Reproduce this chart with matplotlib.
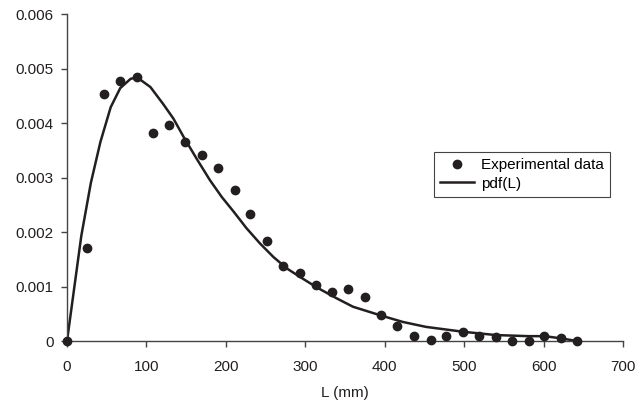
import numpy as np
from matplotlib import pyplot as plt

# experimental points (L in mm, probability density x 1e-3)
exp_L = [0, 25, 46, 67, 88, 108, 129, 149, 170, 190, 211, 231, 252, 272, 293, 313,
         334, 354, 375, 395, 416, 437, 458, 477, 498, 519, 540, 560, 581, 601, 622, 642]
exp_pdf = [0.0, 1.70, 4.53, 4.77, 4.85, 3.81, 3.96, 3.66, 3.42, 3.17, 2.77, 2.34,
           1.84, 1.38, 1.245, 1.03, 0.90, 0.95, 0.80, 0.47, 0.275, 0.10, 0.02, 0.09,
           0.16, 0.085, 0.07, 0.01, 0.005, 0.10, 0.05, 0.0]

# fitted pdf(L) (x 1e-3)
fit_L = [0, 18, 30, 42, 55, 67, 80, 88, 105, 121, 134, 147, 163, 180, 195, 210, 226,
         243, 260, 277, 294, 315, 340, 360, 395, 423, 452, 499, 540, 581, 601, 622, 642]
fit_pdf = [0.0, 1.93, 2.90, 3.65, 4.29, 4.64, 4.81, 4.84, 4.66, 4.35, 4.08, 3.74,
           3.35, 2.95, 2.64, 2.37, 2.07, 1.79, 1.54, 1.33, 1.17, 0.98, 0.78, 0.63,
           0.47, 0.35, 0.26, 0.17, 0.11, 0.09, 0.09, 0.05, 0.0]

x_ticks = [0, 100, 200, 300, 400, 500, 600, 700]
y_ticks = [0, 0.001, 0.002, 0.003, 0.004, 0.005, 0.006]
y_labels = ["0", "0.001", "0.002", "0.003", "0.004", "0.005", "0.006"]

plt.rcParams["font.family"] = ["Liberation Sans", "DejaVu Sans"]
ink = "#231f20"

fig = plt.figure(figsize=(6.4, 4.07), dpi=100)
ax = fig.add_axes([0.1047, 0.162, 0.8688, 0.8036])

ax.plot(np.array(fit_L), np.array(fit_pdf) * 1e-3, color=ink, lw=1.8,
        label="pdf(L)", zorder=2)
ax.plot(np.array(exp_L), np.array(exp_pdf) * 1e-3, "o", color=ink, ms=6,
        label="Experimental data", zorder=3, clip_on=False)

ax.set_xlim(0, 700)
ax.set_ylim(0, 0.006)
ax.set_xticks(x_ticks)
ax.set_yticks(y_ticks)
ax.set_yticklabels(y_labels)

for s in ["top", "right"]:
    ax.spines[s].set_visible(False)
for s in ["left", "bottom"]:
    ax.spines[s].set_color("#444444")
    ax.spines[s].set_linewidth(1.0)

ax.tick_params(axis="both", direction="out", length=4.5, width=1.0,
               color="#444444", labelsize=11, labelcolor=ink)
ax.tick_params(axis="x", pad=9)
ax.tick_params(axis="y", pad=5)

ax.set_xlabel("L (mm)", fontsize=11, color=ink, labelpad=9)

handles, labels = ax.get_legend_handles_labels()
leg = ax.legend(handles[::-1], labels[::-1], loc="upper left",
                bbox_to_anchor=(0.66, 0.578), fontsize=11, frameon=True,
                fancybox=False, edgecolor="#444444", framealpha=1,
                handlelength=2.2, handletextpad=0.5, borderpad=0.4,
                labelspacing=0.3, borderaxespad=0)
leg.get_frame().set_linewidth(0.8)

fig.savefig("out.png", dpi=100)
